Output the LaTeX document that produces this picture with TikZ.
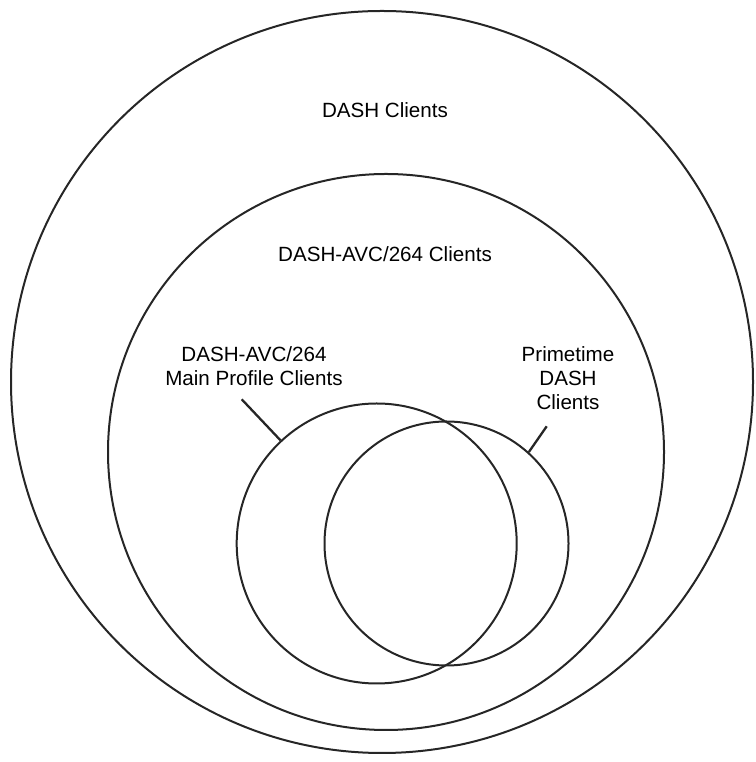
\documentclass[tikz,border=0pt]{standalone}
\usepackage{fontspec}
\setmainfont{Liberation Sans}
\usepackage{tikz}

\tikzset{
  venn/.style={circle, draw=black!85, line width=2pt, inner sep=0pt},
  lbl/.style={align=center, font=\fontsize{20.6pt}{24pt}\selectfont},
  leader/.style={draw=black!85, line width=2.3pt},
}

\begin{document}
\begin{tikzpicture}[x=1pt,y=1pt]
	\useasboundingbox (0,0) rectangle (755,762);
	
	% Sets
	\node[venn, minimum size=742pt] (dash) at (382,380) {};
	\node[venn, minimum size=556pt] (avc) at (386,310) {};
	\node[venn, minimum size=280pt] (mainp) at (376.7,218.5) {};
	\node[venn, minimum size=244pt] (prime) at (446.5,218.5) {};
	
	% Labels
	\node[lbl] (dashlbl) at (385,652) {DASH Clients};
	\node[lbl] (avclbl) at (385,508) {DASH-AVC/264 Clients};
	\node[lbl] (mainlbl) at (254,396) {DASH-AVC/264\\Main Profile Clients};
	\node[lbl] (primelbl) at (568,384) {Primetime\\DASH\\Clients};
	
	% Leader lines
	\coordinate (maintip) at (241.7,362.7); % below main profile label
	\coordinate (primetip) at (546.7,335.7); % below primetime label
	\draw[leader] (maintip) -- (mainp.133);
	\draw[leader] (primetip) -- (prime.48);
\end{tikzpicture}
\end{document}
